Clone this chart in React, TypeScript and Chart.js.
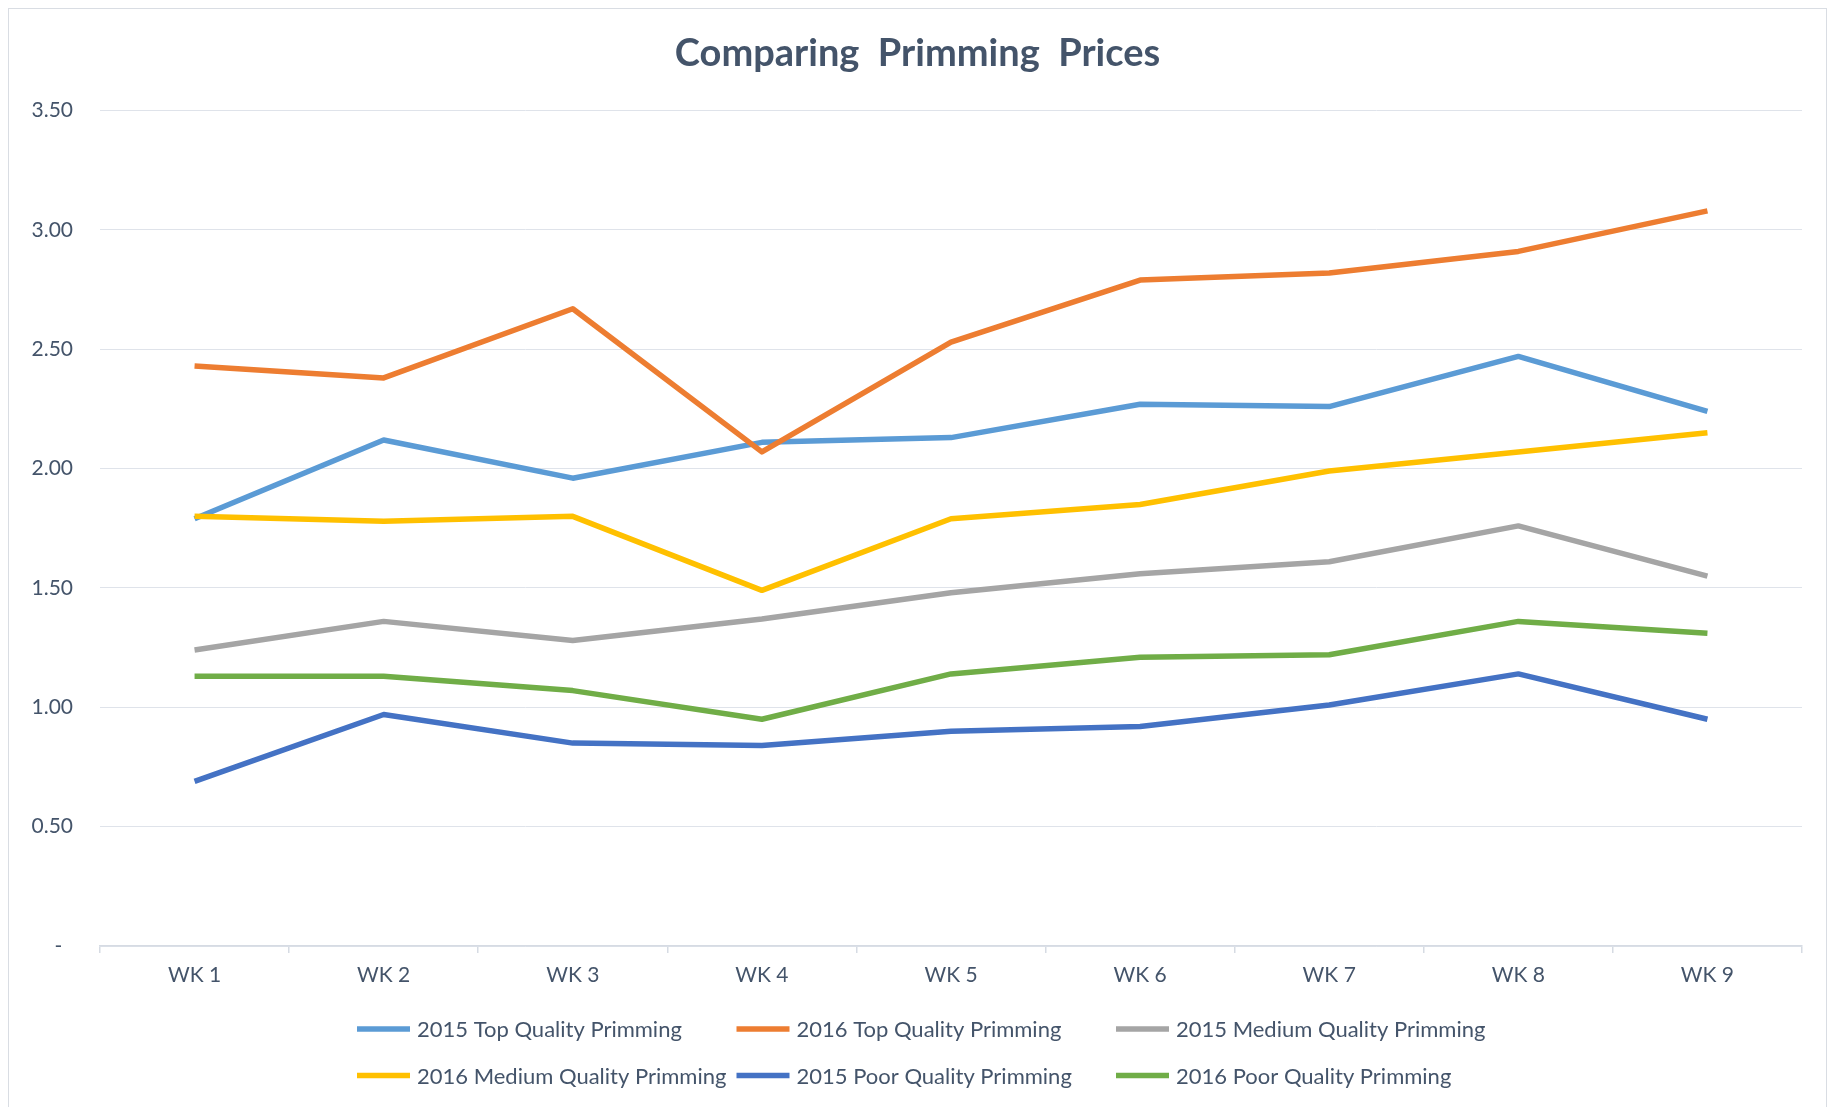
import React, { useEffect, useRef } from 'react';
import { Chart, registerables } from 'chart.js';

Chart.register(...registerables);

const weeks = ['WK 1', 'WK 2', 'WK 3', 'WK 4', 'WK 5', 'WK 6', 'WK 7', 'WK 8', 'WK 9'];

const seriesNames = [
  '2015 Top Quality Primming',
  '2016 Top Quality Primming',
  '2015 Medium Quality Primming',
  '2016 Medium Quality Primming',
  '2015 Poor Quality Primming',
  '2016 Poor Quality Primming',
];

const top2015 = [1.79, 2.12, 1.96, 2.11, 2.13, 2.27, 2.26, 2.47, 2.24];
const top2016 = [2.43, 2.38, 2.67, 2.07, 2.53, 2.79, 2.82, 2.91, 3.08];
const medium2015 = [1.24, 1.36, 1.28, 1.37, 1.48, 1.56, 1.61, 1.76, 1.55];
const medium2016 = [1.8, 1.78, 1.8, 1.49, 1.79, 1.85, 1.99, 2.07, 2.15];
const poor2015 = [0.69, 0.97, 0.85, 0.84, 0.9, 0.92, 1.01, 1.14, 0.95];
const poor2016 = [1.13, 1.13, 1.07, 0.95, 1.14, 1.21, 1.22, 1.36, 1.31];

const seriesValues = [top2015, top2016, medium2015, medium2016, poor2015, poor2016];
const seriesColors = ['#5B9BD5', '#ED7D31', '#A5A5A5', '#FFC000', '#4472C4', '#70AD47'];

const yMin = 0;
const yMax = 3.5;
const yStep = 0.5;

const titleText = 'Comparing  Primming  Prices';
const textColor = '#44546A';
const fontFamily = 'Lato, "Open Sans", sans-serif';

const gridLegendPlugin = {
  id: 'gridLegend',
  afterDraw(chart: any) {
    const ctx = chart.ctx;
    const area = chart.chartArea;
    ctx.save();
    chart.data.datasets.forEach((ds: any, i: number) => {
      const col = i % 3;
      const row = Math.floor(i / 3);
      const x = 348 + col * 379.5;
      const y = area.bottom + 83 + row * 46.5;
      ctx.strokeStyle = ds.borderColor;
      ctx.lineWidth = 5.5;
      ctx.lineCap = 'butt';
      ctx.beginPath();
      ctx.moveTo(x, y);
      ctx.lineTo(x + 53, y);
      ctx.stroke();
      ctx.fillStyle = textColor;
      ctx.font = `22px ${fontFamily}`;
      ctx.textBaseline = 'middle';
      ctx.textAlign = 'left';
      ctx.fillText(ds.label, x + 60, y + 1);
    });
    ctx.restore();
  },
};

export default function App() {
  const canvasRef = useRef<HTMLCanvasElement | null>(null);

  useEffect(() => {
    if (!canvasRef.current) return;
    const chart = new Chart(canvasRef.current, {
      type: 'line',
      data: {
        labels: weeks,
        datasets: seriesNames.map((name, i) => ({
          label: name,
          data: seriesValues[i],
          borderColor: seriesColors[i],
          backgroundColor: seriesColors[i],
          borderWidth: 5.5,
          pointRadius: 0,
          pointHoverRadius: 0,
          tension: 0,
          fill: false,
          borderJoinStyle: 'round' as const,
          borderCapStyle: 'butt' as const,
          order: seriesNames.length - i,
          yAxisID: 'y',
        })),
      },
      options: {
        animation: false,
        responsive: true,
        maintainAspectRatio: false,
        layout: { padding: { left: 0, right: 0, top: 0, bottom: 121 } },
        plugins: {
          legend: { display: false },
          tooltip: { enabled: false },
          title: {
            display: true,
            text: titleText,
            color: textColor,
            font: { family: fontFamily, size: 38, weight: 'bold' },
            padding: { top: 22, bottom: 34 },
          },
        },
        scales: {
          x: {
            type: 'category',
            offset: true,
            grid: {
              display: true,
              offset: true,
              drawOnChartArea: false,
              drawTicks: true,
              tickLength: 7,
              color: '#d6dbe3',
              lineWidth: 1.5,
            },
            border: { display: true, color: '#d6dbe3', width: 1.5 },
            ticks: {
              color: textColor,
              font: { family: fontFamily, size: 21 },
              padding: 10,
              maxRotation: 0,
            },
            afterFit: (scale: any) => {
              scale.height = 50;
            },
          },
          y: {
            position: 'left',
            min: yMin,
            max: yMax,
            grid: { color: '#dfe3ea', lineWidth: 1, drawTicks: false },
            border: { display: false },
            ticks: {
              stepSize: yStep,
              color: textColor,
              font: { family: fontFamily, size: 21 },
              padding: 27,
              callback: (v: any) => (Number(v) === 0 ? '-  ' : Number(v).toFixed(2)),
            },
            afterFit: (scale: any) => {
              scale.width = 91;
            },
          },
          yRightSpacer: {
            type: 'linear',
            position: 'right',
            display: true,
            grid: { display: false, drawOnChartArea: false },
            border: { display: false },
            ticks: { display: false },
            afterFit: (scale: any) => {
              scale.width = 24;
            },
          },
        },
      },
      plugins: [gridLegendPlugin],
    });
    return () => chart.destroy();
  }, []);

  return (
    <div
      style={{
        position: 'fixed',
        left: 8,
        top: 8,
        width: 1819,
        height: 1110,
        boxSizing: 'border-box',
        border: '1px solid #d9dde3',
        background: '#ffffff',
      }}
    >
      <canvas ref={canvasRef} />
    </div>
  );
}
